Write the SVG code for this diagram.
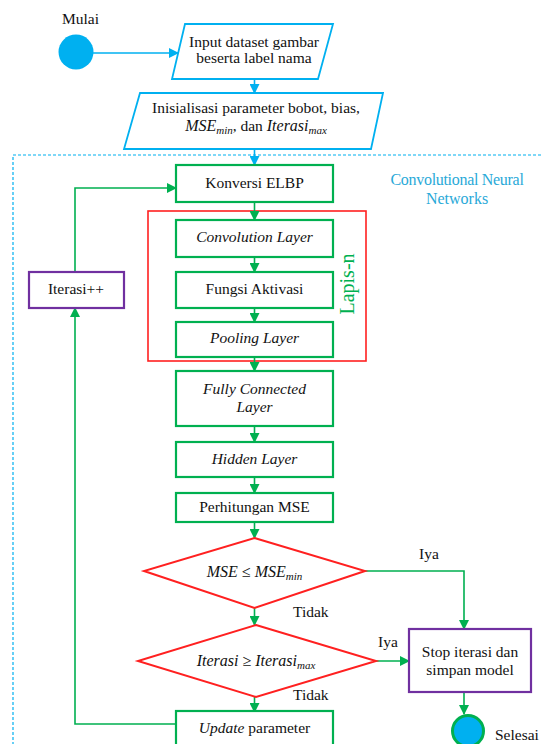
<svg xmlns="http://www.w3.org/2000/svg" width="543" height="744" viewBox="0 0 543 744" font-family="'Liberation Serif', 'DejaVu Serif', serif">
<defs>
<style>
.t{font-family:"Liberation Serif","DejaVu Serif",serif;font-size:15.5px;fill:#111;}
.i{font-style:italic;}
.m{font-family:"Liberation Serif","DejaVu Serif",serif;font-style:italic;font-size:16px;fill:#111;}
.sub{font-size:11px;}
.c{text-anchor:middle;}
.g{fill:#fff;stroke:#00b050;stroke-width:2.2;}
.p{fill:#fff;stroke:#7030a0;stroke-width:2.2;}
.par{fill:#fff;stroke:#00b0f0;stroke-width:1.8;}
.dia{fill:#fff;stroke:#ff2020;stroke-width:2;}
.lg{fill:none;stroke:#00b050;stroke-width:1.6;}
.lb{fill:none;stroke:#00b0f0;stroke-width:1.6;}
</style>
<marker id="ag" markerUnits="userSpaceOnUse" markerWidth="10" markerHeight="10" refX="9" refY="5" orient="auto">
<path d="M0,0 L10,5 L0,10 Z" fill="#00b050"/>
</marker>
<marker id="ab" markerUnits="userSpaceOnUse" markerWidth="10" markerHeight="10" refX="9" refY="5" orient="auto">
<path d="M0,0 L10,5 L0,10 Z" fill="#00b0f0"/>
</marker>
</defs>
<rect width="543" height="744" fill="#fff"/>

<g id="cnn-container">
<rect x="13" y="155" width="545" height="600" fill="none" stroke="#00b0f0" stroke-width="1.2" stroke-dasharray="3,2"/>
<text class="t c" x="457" y="185" style="fill:#29a9d8;font-size:16px;letter-spacing:-0.3px">Convolutional Neural</text>
<text class="t c" x="457" y="204" style="fill:#29a9d8;font-size:16px">Networks</text>
</g>

<g id="lapis-n">
<rect x="148" y="211" width="218" height="150" fill="none" stroke="#ff2020" stroke-width="1.6"/>
<text class="t c" transform="translate(354,284) rotate(-90)" style="fill:#00b050;font-size:20px">Lapis-n</text>
</g>

<g id="connectors">
<line class="lb" x1="93" y1="53" x2="178" y2="53" marker-end="url(#ab)"/>
<line class="lb" x1="254.5" y1="79" x2="254.5" y2="93" marker-end="url(#ab)"/>
<line class="lb" x1="254.5" y1="150" x2="254.5" y2="165" marker-end="url(#ab)"/>
<line class="lg" x1="254.5" y1="202" x2="254.5" y2="220" marker-end="url(#ag)"/>
<line class="lg" x1="254.5" y1="257" x2="254.5" y2="272" marker-end="url(#ag)"/>
<line class="lg" x1="254.5" y1="308" x2="254.5" y2="322" marker-end="url(#ag)"/>
<line class="lg" x1="254.5" y1="357" x2="254.5" y2="371" marker-end="url(#ag)"/>
<line class="lg" x1="254.5" y1="426" x2="254.5" y2="442" marker-end="url(#ag)"/>
<line class="lg" x1="254.5" y1="477" x2="254.5" y2="493" marker-end="url(#ag)"/>
<line class="lg" x1="254.5" y1="522" x2="254.5" y2="538" marker-end="url(#ag)"/>
<line class="lg" x1="254.5" y1="608" x2="254.5" y2="625" marker-end="url(#ag)"/>
<line class="lg" x1="254.5" y1="697" x2="254.5" y2="712" marker-end="url(#ag)"/>
<polyline class="lg" points="365,571 464,571 464,629" marker-end="url(#ag)"/>
<line class="lg" x1="376" y1="661" x2="409" y2="661" marker-end="url(#ag)"/>
<line class="lg" x1="464" y1="692" x2="464" y2="714" marker-end="url(#ag)"/>
<polyline class="lg" points="176,724 75,724 75,308" marker-end="url(#ag)"/>
<polyline class="lg" points="75,272 75,188 176,188" marker-end="url(#ag)"/>
<text class="t" x="419" y="559">Iya</text>
<text class="t" x="378" y="647">Iya</text>
<text class="t" x="293" y="617">Tidak</text>
<text class="t" x="293" y="700">Tidak</text>
</g>

<g id="start">
<circle cx="76" cy="52" r="17.5" fill="#00b0f0"/>
<text class="t" x="62" y="24">Mulai</text>
</g>

<g id="input">
<polygon class="par" points="185,24 333,24 318,79 172,79"/>
<text class="t c" x="254" y="47">Input dataset gambar</text>
<text class="t c" x="254" y="63">beserta label nama</text>
</g>

<g id="init">
<polygon class="par" points="140,93 383,93 371,149 124,149"/>
<text class="t c" x="256" y="113">Inisialisasi parameter bobot, bias,</text>
<text class="t c" x="256" y="131"><tspan class="m">MSE</tspan><tspan class="m sub" dy="3">min</tspan><tspan dy="-3">, dan </tspan><tspan class="m">Iterasi</tspan><tspan class="m sub" dy="3">max</tspan></text>
</g>

<g id="konversi">
<rect class="g" x="176" y="165" width="157" height="37"/>
<text class="t c" x="254.5" y="188">Konversi ELBP</text>
</g>

<g id="convolution">
<rect class="g" x="176" y="220" width="157" height="37"/>
<text class="t c i" x="254.5" y="242">Convolution Layer</text>
</g>

<g id="aktivasi">
<rect class="g" x="176" y="272" width="157" height="36"/>
<text class="t c" x="254.5" y="294">Fungsi Aktivasi</text>
</g>

<g id="pooling">
<rect class="g" x="176" y="322" width="157" height="35"/>
<text class="t c i" x="254.5" y="343">Pooling Layer</text>
</g>

<g id="fully">
<rect class="g" x="176" y="371" width="157" height="55"/>
<text class="t c i" x="254.5" y="394">Fully Connected</text>
<text class="t c i" x="254.5" y="412">Layer</text>
</g>

<g id="hidden">
<rect class="g" x="176" y="442" width="157" height="35"/>
<text class="t c i" x="254.5" y="464">Hidden Layer</text>
</g>

<g id="mse">
<rect class="g" x="176" y="493" width="157" height="29"/>
<text class="t c" x="254.5" y="512">Perhitungan MSE</text>
</g>

<g id="dec-mse">
<polygon class="dia" points="254.5,538 365,571 254.5,608 144,571"/>
<text class="t c" x="254.5" y="577"><tspan class="m">MSE</tspan><tspan class="m"> ≤ MSE</tspan><tspan class="m sub" dy="3">min</tspan></text>
</g>

<g id="dec-iter">
<polygon class="dia" points="256,625 376,661 256,697 138,661"/>
<text class="t c" x="256" y="666"><tspan class="m">Iterasi ≥ Iterasi</tspan><tspan class="m sub" dy="3">max</tspan></text>
</g>

<g id="iterasi-inc">
<rect class="p" x="29" y="272" width="95" height="36"/>
<text class="t c" x="76" y="294">Iterasi++</text>
</g>

<g id="update">
<rect class="g" x="176" y="711" width="157" height="45"/>
<text class="t c" x="254.5" y="733"><tspan class="i">Update</tspan> parameter</text>
</g>

<g id="stop">
<rect class="p" x="409" y="629" width="122" height="63"/>
<text class="t c" x="470" y="657">Stop iterasi dan</text>
<text class="t c" x="470" y="675">simpan model</text>
</g>

<g id="end">
<circle cx="468" cy="731" r="15.5" fill="#00b0f0" stroke="#00b050" stroke-width="3"/>
<text class="t" x="495" y="740">Selesai</text>
</g>
</svg>
